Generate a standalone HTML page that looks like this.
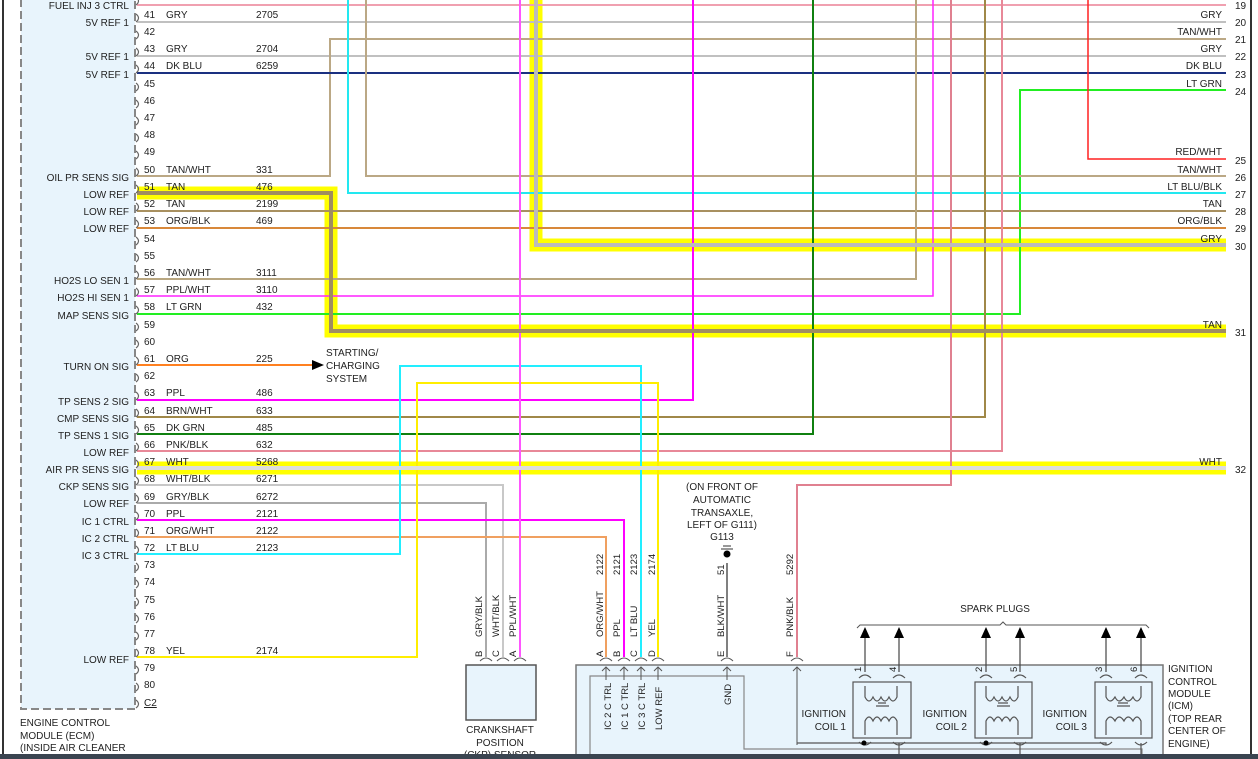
<!DOCTYPE html>
<html><head><meta charset="utf-8"><style>
html,body{margin:0;padding:0;background:#fff;}
svg{display:block;font-family:"Liberation Sans",sans-serif;font-size:10px;}
.l{text-anchor:end}
.w{fill:none;stroke-width:2}
</style></head><body>
<svg width="1258" height="759" viewBox="0 0 1258 759" xmlns="http://www.w3.org/2000/svg">
<rect width="1258" height="759" fill="#fff"/>
<line x1="3" y1="0" x2="3" y2="755" stroke="#333" stroke-width="2"/>
<line x1="1251" y1="0" x2="1251" y2="755" stroke="#333" stroke-width="2"/>
<!-- ECM box -->
<rect x="21" y="-5" width="114" height="714" fill="#e8f4fc" stroke="#888" stroke-width="2" stroke-dasharray="8,4"/>
<g font-size="10" fill="#222">
<text x="20" y="726">ENGINE CONTROL</text>
<text x="20" y="739">MODULE (ECM)</text>
<text x="20" y="751">(INSIDE AIR CLEANER</text>
</g>
<!-- highlights -->
<g fill="none" stroke="#ffff00" stroke-width="13">
<path d="M137 193 H331 V331 H1226"/>
<path d="M536 -5 V245 H1226"/>
<path d="M137 468 H1226"/>
</g>
<!-- wires -->
<g class="w">
<path d="M137 5 H1226" stroke="#f0a0b0"/>
<path d="M137 22 H1226" stroke="#c0c0c0"/>
<path d="M137 56 H1226" stroke="#c0c0c0"/>
<path d="M137 176 H330 V39 H1226" stroke="#bba885"/>
<path d="M137 73 H1226" stroke="#1a3080"/>
<path d="M137 314 H1020 V90 H1226" stroke="#22ee22"/>
<path d="M1088 0 V159 H1226" stroke="#ff2020" stroke-width="1.5"/>
<path d="M366 0 V176 H1226" stroke="#bba885"/>
<path d="M348 0 V193 H1226" stroke="#22e8f0"/>
<path d="M137 211 H1226" stroke="#a89060"/>
<path d="M137 228 H1226" stroke="#d8883a"/>
<path d="M137 279 H916 V0" stroke="#b8a680"/>
<path d="M137 296 H933 V0" stroke="#ff22ff" stroke-width="1.5"/>
<path d="M137 365 H314" stroke="#ff8020"/>
<path d="M137 400 H693 V0" stroke="#ff00ff"/>
<path d="M137 417 H985 V0" stroke="#a08848"/>
<path d="M137 434 H813 V0" stroke="#108010"/>
<path d="M137 451 H1002 V0" stroke="#e88898"/>
<path d="M137 485 H503 V657" stroke="#c8c8c8"/>
<path d="M137 503 H486 V657" stroke="#aaaaaa"/>
<path d="M137 520 H624 V657" stroke="#ff00ff"/>
<path d="M137 537 H606 V657" stroke="#f0a060"/>
<path d="M137 554 H400 V366 H641 V657" stroke="#22eeff"/>
<path d="M137 657 H417 V383 H658 V657" stroke="#ffee00"/>
<path d="M520 0 V657" stroke="#ff55ff"/>
<path d="M951 0 V485 H797 V657" stroke="#e08090"/>
<path d="M727 563 V657" stroke="#555" stroke-width="1.5"/>
</g>
<g fill="none" stroke-width="4">
<path d="M137 193 H331 V331 H1226" stroke="#a08e60"/>
<path d="M536 -5 V245 H1226" stroke="#bbbbbb"/>
<path d="M137 468 H1226" stroke="#dddddd"/>
</g>
<polygon points="312,360 324,365 312,370" fill="#000"/>
<g font-size="10" fill="#222">
<text x="326" y="356">STARTING/</text><text x="326" y="369">CHARGING</text><text x="326" y="382">SYSTEM</text>
</g>
<!-- connector hooks -->
<g fill="none" stroke="#666" stroke-width="1.2">
<path d="M136 -3 q5 4 0 8 M136 14q5 4 0 8 M136 31q5 4 0 8 M136 48q5 4 0 8 M136 65q5 4 0 8 M136 83q5 4 0 8 M136 100q5 4 0 8 M136 117q5 4 0 8 M136 134q5 4 0 8 M136 151q5 4 0 8 M136 168q5 4 0 8 M136 185q5 4 0 8 M136 203q5 4 0 8 M136 220q5 4 0 8 M136 237q5 4 0 8 M136 254q5 4 0 8 M136 271q5 4 0 8 M136 288q5 4 0 8 M136 306q5 4 0 8 M136 323q5 4 0 8 M136 340q5 4 0 8 M136 357q5 4 0 8 M136 374q5 4 0 8 M136 392q5 4 0 8 M136 409q5 4 0 8 M136 426q5 4 0 8 M136 443q5 4 0 8 M136 460q5 4 0 8 M136 477q5 4 0 8 M136 495q5 4 0 8 M136 512q5 4 0 8 M136 529q5 4 0 8 M136 546q5 4 0 8 M136 563q5 4 0 8 M136 580q5 4 0 8 M136 598q5 4 0 8 M136 615q5 4 0 8 M136 632q5 4 0 8 M136 649q5 4 0 8 M136 666q5 4 0 8 M136 683q5 4 0 8 M136 700q5 4 0 8"/>
</g>
<!-- left labels -->
<g class="l" fill="#222">
<text x="129" y="9">FUEL INJ 3 CTRL</text>
<text x="129" y="26">5V REF 1</text>
<text x="129" y="60">5V REF 1</text>
<text x="129" y="78">5V REF 1</text>
<text x="129" y="181">OIL PR SENS SIG</text>
<text x="129" y="198">LOW REF</text>
<text x="129" y="215">LOW REF</text>
<text x="129" y="232">LOW REF</text>
<text x="129" y="284">HO2S LO SEN 1</text>
<text x="129" y="301">HO2S HI SEN 1</text>
<text x="129" y="319">MAP SENS SIG</text>
<text x="129" y="370">TURN ON SIG</text>
<text x="129" y="405">TP SENS 2 SIG</text>
<text x="129" y="422">CMP SENS SIG</text>
<text x="129" y="439">TP SENS 1 SIG</text>
<text x="129" y="456">LOW REF</text>
<text x="129" y="473">AIR PR SENS SIG</text>
<text x="129" y="490">CKP SENS SIG</text>
<text x="129" y="507">LOW REF</text>
<text x="129" y="525">IC 1 CTRL</text>
<text x="129" y="542">IC 2 CTRL</text>
<text x="129" y="559">IC 3 CTRL</text>
<text x="129" y="663">LOW REF</text>
</g>
<!-- pin numbers and wire labels -->
<g fill="#222">
<text x="144" y="18">41</text><text x="166" y="18">GRY</text><text x="256" y="18">2705</text>
<text x="144" y="35">42</text>
<text x="144" y="52">43</text><text x="166" y="52">GRY</text><text x="256" y="52">2704</text>
<text x="144" y="69">44</text><text x="166" y="69">DK BLU</text><text x="256" y="69">6259</text>
<text x="144" y="87">45</text><text x="144" y="104">46</text><text x="144" y="121">47</text><text x="144" y="138">48</text><text x="144" y="155">49</text>
<text x="144" y="173">50</text><text x="166" y="173">TAN/WHT</text><text x="256" y="173">331</text>
<text x="144" y="190">51</text><text x="166" y="190">TAN</text><text x="256" y="190">476</text>
<text x="144" y="207">52</text><text x="166" y="207">TAN</text><text x="256" y="207">2199</text>
<text x="144" y="224">53</text><text x="166" y="224">ORG/BLK</text><text x="256" y="224">469</text>
<text x="144" y="242">54</text><text x="144" y="259">55</text>
<text x="144" y="276">56</text><text x="166" y="276">TAN/WHT</text><text x="256" y="276">3111</text>
<text x="144" y="293">57</text><text x="166" y="293">PPL/WHT</text><text x="256" y="293">3110</text>
<text x="144" y="310">58</text><text x="166" y="310">LT GRN</text><text x="256" y="310">432</text>
<text x="144" y="328">59</text><text x="144" y="345">60</text>
<text x="144" y="362">61</text><text x="166" y="362">ORG</text><text x="256" y="362">225</text>
<text x="144" y="379">62</text>
<text x="144" y="396">63</text><text x="166" y="396">PPL</text><text x="256" y="396">486</text>
<text x="144" y="414">64</text><text x="166" y="414">BRN/WHT</text><text x="256" y="414">633</text>
<text x="144" y="431">65</text><text x="166" y="431">DK GRN</text><text x="256" y="431">485</text>
<text x="144" y="448">66</text><text x="166" y="448">PNK/BLK</text><text x="256" y="448">632</text>
<text x="144" y="465">67</text><text x="166" y="465">WHT</text><text x="256" y="465">5268</text>
<text x="144" y="482">68</text><text x="166" y="482">WHT/BLK</text><text x="256" y="482">6271</text>
<text x="144" y="500">69</text><text x="166" y="500">GRY/BLK</text><text x="256" y="500">6272</text>
<text x="144" y="517">70</text><text x="166" y="517">PPL</text><text x="256" y="517">2121</text>
<text x="144" y="534">71</text><text x="166" y="534">ORG/WHT</text><text x="256" y="534">2122</text>
<text x="144" y="551">72</text><text x="166" y="551">LT BLU</text><text x="256" y="551">2123</text>
<text x="144" y="568">73</text><text x="144" y="585">74</text><text x="144" y="603">75</text><text x="144" y="620">76</text><text x="144" y="637">77</text>
<text x="144" y="654">78</text><text x="166" y="654">YEL</text><text x="256" y="654">2174</text>
<text x="144" y="671">79</text><text x="144" y="688">80</text>
<text x="144" y="706" text-decoration="underline">C2</text>
</g>
<!-- right labels -->
<g class="l" fill="#222">
<text x="1222" y="18">GRY</text><text x="1222" y="35">TAN/WHT</text><text x="1222" y="52">GRY</text>
<text x="1222" y="69">DK BLU</text><text x="1222" y="87">LT GRN</text><text x="1222" y="155">RED/WHT</text>
<text x="1222" y="173">TAN/WHT</text><text x="1222" y="190">LT BLU/BLK</text><text x="1222" y="207">TAN</text>
<text x="1222" y="224">ORG/BLK</text><text x="1222" y="242">GRY</text><text x="1222" y="328">TAN</text>
<text x="1222" y="465">WHT</text>
</g>
<g fill="#222">
<text x="1235" y="9">19</text><text x="1235" y="26">20</text><text x="1235" y="43">21</text><text x="1235" y="60">22</text>
<text x="1235" y="78">23</text><text x="1235" y="95">24</text><text x="1235" y="164">25</text><text x="1235" y="181">26</text>
<text x="1235" y="198">27</text><text x="1235" y="215">28</text><text x="1235" y="232">29</text><text x="1235" y="250">30</text>
<text x="1235" y="336">31</text><text x="1235" y="473">32</text>
</g>
<!-- CKP sensor -->
<rect x="466" y="665" width="70" height="55" fill="#e8f4fc" stroke="#555" stroke-width="1.5"/>
<g fill="#222" text-anchor="middle">
<text x="500" y="733">CRANKSHAFT</text><text x="500" y="746">POSITION</text><text x="500" y="758">(CKP) SENSOR</text>
</g>
<!-- ICM -->
<rect x="576" y="665" width="587" height="100" fill="#e8f4fc" stroke="#777" stroke-width="1.5"/>
<path d="M590 760 V676 H744 V749 H1142 V770" fill="none" stroke="#888" stroke-width="1.2"/>
<g fill="#222">
<text x="1168" y="672">IGNITION</text><text x="1168" y="685">CONTROL</text><text x="1168" y="697">MODULE</text>
<text x="1168" y="709">(ICM)</text><text x="1168" y="722">(TOP REAR</text><text x="1168" y="734">CENTER OF</text><text x="1168" y="747">ENGINE)</text>
</g>
<!-- connector caps -->
<g fill="none" stroke="#555" stroke-width="1">
<path d="M480 661 q6 -6 12 0 M497 661 q6 -6 12 0 M514 661 q6 -6 12 0 M600 661 q6 -6 12 0 M618 661 q6 -6 12 0 M635 661 q6 -6 12 0 M652 661 q6 -6 12 0 M721 661 q6 -6 12 0 M791 661 q6 -6 12 0"/>
<path d="M606 680 V667 M602 671 l4 -4 l4 4 M624 680 V667 M620 671 l4 -4 l4 4 M641 680 V667 M637 671 l4 -4 l4 4 M658 680 V667 M654 671 l4 -4 l4 4 M727 680 V667 M723 671 l4 -4 l4 4 M797 745 V667 M793 671 l4 -4 l4 4"/>
</g>
<g fill="#222" font-size="9.5">
<text transform="translate(482,637) rotate(-90)">GRY/BLK</text>
<text transform="translate(499,637) rotate(-90)">WHT/BLK</text>
<text transform="translate(516,637) rotate(-90)">PPL/WHT</text>
<text transform="translate(482,657) rotate(-90)">B</text>
<text transform="translate(499,657) rotate(-90)">C</text>
<text transform="translate(516,657) rotate(-90)">A</text>
<text transform="translate(603,637) rotate(-90)">ORG/WHT</text>
<text transform="translate(620,637) rotate(-90)">PPL</text>
<text transform="translate(637,637) rotate(-90)">LT BLU</text>
<text transform="translate(655,637) rotate(-90)">YEL</text>
<text transform="translate(724,637) rotate(-90)">BLK/WHT</text>
<text transform="translate(793,637) rotate(-90)">PNK/BLK</text>
<text transform="translate(603,575) rotate(-90)">2122</text>
<text transform="translate(620,575) rotate(-90)">2121</text>
<text transform="translate(637,575) rotate(-90)">2123</text>
<text transform="translate(655,575) rotate(-90)">2174</text>
<text transform="translate(724,575) rotate(-90)">51</text>
<text transform="translate(793,575) rotate(-90)">5292</text>
<text transform="translate(603,657) rotate(-90)">A</text>
<text transform="translate(620,657) rotate(-90)">B</text>
<text transform="translate(637,657) rotate(-90)">C</text>
<text transform="translate(655,657) rotate(-90)">D</text>
<text transform="translate(724,657) rotate(-90)">E</text>
<text transform="translate(793,657) rotate(-90)">F</text>
<text transform="translate(611,730) rotate(-90)">IC 2 C TRL</text>
<text transform="translate(628,730) rotate(-90)">IC 1 C TRL</text>
<text transform="translate(645,730) rotate(-90)">IC 3 C TRL</text>
<text transform="translate(662,730) rotate(-90)">LOW REF</text>
<text transform="translate(731,705) rotate(-90)">GND</text>
</g>
<g fill="#222" text-anchor="middle">
<text x="722" y="490">(ON FRONT OF</text><text x="722" y="503">AUTOMATIC</text><text x="722" y="516">TRANSAXLE,</text>
<text x="722" y="528">LEFT OF G111)</text><text x="722" y="540">G113</text>
</g>
<g stroke="#333" stroke-width="1"><line x1="723" y1="546" x2="731" y2="546"/><line x1="721" y1="549" x2="733" y2="549"/></g>
<circle cx="727" cy="554" r="3.5" fill="#000"/>
<!-- spark plugs -->
<text x="995" y="612" text-anchor="middle" fill="#222">SPARK PLUGS</text>
<path d="M857 628 l3 -3 H1000 l3 -3 l3 3 H1146 l3 3" fill="none" stroke="#555"/>
<g stroke="#444" stroke-width="1.2">
<line x1="865" y1="636" x2="865" y2="672"/><line x1="899" y1="636" x2="899" y2="672"/>
<line x1="986" y1="636" x2="986" y2="672"/><line x1="1020" y1="636" x2="1020" y2="672"/>
<line x1="1106" y1="636" x2="1106" y2="672"/><line x1="1141" y1="636" x2="1141" y2="672"/>
</g>
<g fill="#000">
<polygon points="860,638 865,627 870,638"/><polygon points="894,638 899,627 904,638"/>
<polygon points="981,638 986,627 991,638"/><polygon points="1015,638 1020,627 1025,638"/>
<polygon points="1101,638 1106,627 1111,638"/><polygon points="1136,638 1141,627 1146,638"/>
</g>
<g fill="#222" font-size="9.5">
<text transform="translate(861,672) rotate(-90)">1</text><text transform="translate(896,672) rotate(-90)">4</text>
<text transform="translate(982,672) rotate(-90)">2</text><text transform="translate(1017,672) rotate(-90)">5</text>
<text transform="translate(1102,672) rotate(-90)">3</text><text transform="translate(1137,672) rotate(-90)">6</text>
</g>
<g fill="none" stroke="#555" stroke-width="1.2">
<rect x="853" y="682" width="58" height="56"/><rect x="975" y="682" width="57" height="56"/><rect x="1095" y="682" width="57" height="56"/>
<path d="M859 678 q6 -6 12 0 M893 678 q6 -6 12 0 M980 678 q6 -6 12 0 M1014 678 q6 -6 12 0 M1100 678 q6 -6 12 0 M1135 678 q6 -6 12 0"/>
<path d="M859 742 q6 6 12 0 M893 742 q6 6 12 0 M980 742 q6 6 12 0 M1014 742 q6 6 12 0 M1100 742 q6 6 12 0 M1135 742 q6 6 12 0"/>
<path d="M865 686 V697 q4 8 8 0 q4 8 8 0 q4 8 8 0 q4 8 8 0 V686 M878 703 H886 M876 706 H889 M865 735 V721 q4 -8 8 0 q4 -8 8 0 q4 -8 8 0 q4 -8 8 0 V735"/>
<path d="M986 686 V697 q4 8 8 0 q4 8 8 0 q4 8 8 0 q4 8 8 0 V686 M998 703 H1008 M997 706 H1010 M986 735 V721 q4 -8 8 0 q4 -8 8 0 q4 -8 8 0 q4 -8 8 0 V735"/>
<path d="M1106 686 V697 q4 8 9 0 q4 8 9 0 q4 8 9 0 q4 8 8 0 V686 M1118 703 H1128 M1117 706 H1130 M1106 735 V721 q4 -8 9 0 q4 -8 9 0 q4 -8 9 0 q4 -8 8 0 V735"/>
<path d="M797 743 H1106 V745"/>
<path d="M899 743 V760 M1020 743 V760 M1141 743 V760"/>
</g>
<circle cx="864" cy="743" r="2.5" fill="#000"/><circle cx="986" cy="743" r="2.5" fill="#000"/>
<g fill="#222" text-anchor="end">
<text x="846" y="717">IGNITION</text><text x="846" y="730">COIL 1</text>
<text x="967" y="717">IGNITION</text><text x="967" y="730">COIL 2</text>
<text x="1087" y="717">IGNITION</text><text x="1087" y="730">COIL 3</text>
</g>
<rect x="0" y="754" width="1258" height="5" fill="#3a4450"/>
</svg>
</body></html>
